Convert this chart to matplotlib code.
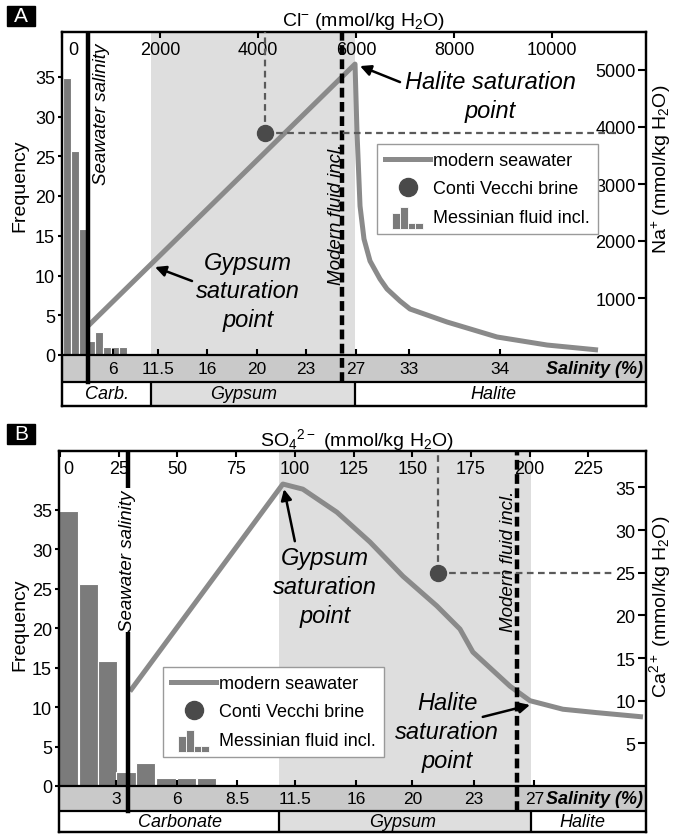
import matplotlib
matplotlib.use('Agg')
import matplotlib.pyplot as plt
from matplotlib.patches import Rectangle
from matplotlib.lines import Line2D
from matplotlib.legend_handler import HandlerBase

plt.rcParams['font.family'] = ['Liberation Sans', 'DejaVu Sans']
plt.rcParams['mathtext.default'] = 'regular'

W, H = 674, 837

# fluid inclusion histogram (same counts in both panels)
freq = [34.8, 25.6, 15.8, 1.8, 2.9, 1, 1, 1]
freq_ticks = [0, 5, 10, 15, 20, 25, 30, 35]

# ---- A : Cl- (x) / Na+ (right y) ----
a_bin_left = [20, 184, 347, 510, 673, 837, 1000, 1163]
a_bin_width = 160
a_cl = [531, 5980, 6020, 6082, 6163, 6286, 6490, 6633, 6898, 7102, 7857, 8878, 9898, 10939]
a_na = [509, 5104, 3911, 2613, 2035, 1649, 1333, 1158, 947, 807, 579, 316, 175, 88]
a_brine = (4150, 3900)
a_brine_end = 11300
a_seawater = 531
a_modern = 5714
a_gypsum = (1816, 5980)
a_top_ticks = [0, 2000, 4000, 6000, 8000, 10000]
a_right_ticks = [1000, 2000, 3000, 4000, 5000]
a_sal_pos = [1041, 1959, 2959, 3980, 4980, 6000, 7082, 8939]
a_sal_lab = ['6', '11.5', '16', '20', '23', '27', '33', '34']
a_min_lab = ['Carb.', 'Gypsum', 'Halite']
a_min_pos = [918, 3714, 8796]

# ---- B : SO4 2- (x) / Ca2+ (right y) ----
b_bin_left = [-0.4, 8.1, 16.0, 24.0, 32.4, 41.0, 49.8, 58.3]
b_bin_width = 8.2
b_so4 = [29.8, 94.9, 103.4, 117.9, 132, 146, 160.5, 170.3, 175.8, 191.6, 200.1, 214.1, 228.6, 248.2]
b_ca = [11.1, 35.4, 34.8, 32.1, 28.6, 24.6, 21.1, 18.4, 15.7, 11.7, 10.0, 9.0, 8.6, 8.1]
b_brine = (161, 25)
b_brine_end = 235
b_seawater = 29
b_modern = 194.6
b_gypsum = (93.2, 200.5)
b_top_ticks = [0, 25, 50, 75, 100, 125, 150, 175, 200, 225]
b_right_ticks = [5, 10, 15, 20, 25, 30, 35]
b_sal_pos = [23.8, 49.8, 75.4, 100, 126, 150, 176.2, 202]
b_sal_lab = ['3', '6', '8.5', '11.5', '16', '20', '23', '27']
b_min_lab = ['Carbonate', 'Gypsum', 'Halite']
b_min_pos = [51, 146, 222.6]

BAR_C = '#7b7b7b'
CURVE_C = '#8a8a8a'
DOT_C = '#4a4a4a'
DASH_C = '#5a5a5a'
SAL_C = '#c9c9c9'
SHADE_C = '#dedede'

fig = plt.figure(figsize=(W / 100, H / 100), dpi=100)


class HistIcon(HandlerBase):
    # little histogram drawn as legend key
    def create_artists(self, legend, orig_handle, xdescent, ydescent, width, height, fontsize, trans):
        bw = width * 0.17
        x0 = -xdescent + (width - 4 * bw) / 2
        y0 = -ydescent + height / 2 - 0.75 * fontsize
        bars = []
        for i, h in enumerate([0.72, 1.0, 0.28, 0.28]):
            bars.append(Rectangle((x0 + i * bw, y0), bw, h * 1.2 * fontsize,
                                  facecolor=BAR_C, edgecolor='white', lw=0.6, transform=trans))
        return bars


def panel(box, zero_px, sal_px, f_ppu, r_ppu, xlim):
    left, top, right, bottom = box
    ax = fig.add_axes([left / W, 1 - bottom / H, (right - left) / W, (bottom - top) / H])
    ax.set_xlim(xlim)
    ax.set_ylim(-(bottom - zero_px) / f_ppu, (zero_px - top) / f_ppu)
    ax2 = ax.twinx()
    ax2.set_ylim(-(bottom - zero_px) / r_ppu, (zero_px - top) / r_ppu)
    zero_frac = (bottom - zero_px) / (bottom - top)
    sal_frac = (bottom - sal_px) / (bottom - top)
    return ax, ax2, zero_frac, sal_frac


def draw(ax, ax2, zero_frac, sal_frac, bin_left, bin_w, cx, cy, brine, brine_end,
         seawater, modern, gyp, top_ticks, zero_dx, right_ticks, sal_pos, sal_lab,
         min_lab, min_pos, leg_xy):
    y0, y1 = ax.get_ylim()
    sal_bot = y0 + sal_frac * (y1 - y0)

    # shading and bottom bands
    ax.axvspan(*gyp, ymin=zero_frac, ymax=1, color=SHADE_C, lw=0, zorder=0)
    ax.axhspan(sal_bot, 0, color=SAL_C, lw=0, zorder=0)
    ax.axvspan(*gyp, ymin=0, ymax=sal_frac, color=SHADE_C, lw=0, zorder=0)
    ax.axhline(sal_bot, color='k', lw=1.6, zorder=1)
    ax.vlines(gyp, y0, sal_bot, color='k', lw=1.6, zorder=1)

    ax.bar(bin_left, freq, width=bin_w, align='edge', color=BAR_C,
           edgecolor='white', lw=0.8, zorder=2)
    ax.axhline(0, color='k', lw=1.6, zorder=2.5)

    ax.vlines(sal_pos, 0, 0.75, color='k', lw=1.5, zorder=2.5)
    sal_mid = sal_bot / 2
    for p, t in zip(sal_pos, sal_lab):
        ax.text(p, sal_mid, t, ha='center', va='center', fontsize=12.5, zorder=3)
    ax.annotate('Salinity (%)', xy=(1, sal_mid), xycoords=('axes fraction', 'data'),
                xytext=(-2, 0), textcoords='offset points', ha='right', va='center',
                fontsize=13, fontweight='bold', style='italic')
    min_mid = (y0 + sal_bot) / 2
    for p, t in zip(min_pos, min_lab):
        ax.text(p, min_mid, t, ha='center', va='center', fontsize=13, style='italic')

    # axes ticks
    ax.set_xticks(top_ticks)
    ax.tick_params(axis='x', bottom=False, top=True, labelbottom=False, labeltop=False,
                   direction='in', length=4, width=1.5)
    for v in top_ticks:
        dx = zero_dx if v == 0 else 0
        ax.annotate(str(v), xy=(v, 1), xycoords=('data', 'axes fraction'), xytext=(dx, -12.6),
                    textcoords='offset points', ha='center', va='center', fontsize=13)
    ax.set_yticks(freq_ticks)
    ax.tick_params(axis='y', direction='out', length=3, width=1.5, pad=2, labelsize=13)
    ax2.set_yticks(right_ticks)
    ax2.tick_params(axis='y', direction='in', length=6, width=1.5, pad=-7.5, labelsize=13)
    for lb in ax2.get_yticklabels():
        lb.set_horizontalalignment('right')
    for a in (ax, ax2):
        for s in a.spines.values():
            s.set_linewidth(1.6)

    # seawater evaporation curve and markers
    ax2.plot(cx, cy, color=CURVE_C, lw=3.6, solid_joinstyle='round', solid_capstyle='butt', zorder=3)
    ax2.axvline(seawater, ymin=sal_frac, ymax=1, color='k', lw=3.2, zorder=4)
    ax2.axvline(modern, ymin=sal_frac, ymax=1, color='k', lw=3.2, dashes=(2.2, 1.0), zorder=4)
    bx, by = brine
    ax2.plot([bx, bx], [by, ax2.get_ylim()[1]], color=DASH_C, lw=1.6, dashes=(3, 2), zorder=5)
    ax2.plot([bx, brine_end], [by, by], color=DASH_C, lw=1.6, dashes=(3, 2), zorder=5)
    ax2.plot(bx, by, 'o', ms=11.5, color=DOT_C, zorder=6)

    hist_handle = Rectangle((0, 0), 1, 1)
    handles = [Line2D([], [], color=CURVE_C, lw=3.6),
               Line2D([], [], ls='none', marker='o', ms=13, color=DOT_C),
               hist_handle]
    labels = ['modern seawater', 'Conti Vecchi brine', 'Messinian fluid incl.']
    leg = ax2.legend(handles, labels, handler_map={hist_handle: HistIcon()},
                     loc='upper left', bbox_to_anchor=leg_xy, bbox_transform=fig.transFigure,
                     fontsize=13, fancybox=False, edgecolor='#9a9a9a', framealpha=1,
                     borderpad=0.45, handlelength=2.5, handletextpad=0.15,
                     labelspacing=0.62, borderaxespad=0)
    leg.get_frame().set_linewidth(1.0)
    return ax2


def note(ax2, txt, xy_t, head, tail):
    ax2.text(*xy_t, txt, ha='center', va='center', fontsize=17, style='italic',
             linespacing=1.33, zorder=7)
    ax2.annotate('', xy=head, xytext=tail, zorder=7,
                 arrowprops=dict(arrowstyle='-|>', color='k', lw=1.8,
                                 mutation_scale=16, shrinkA=0, shrinkB=0))


# ---------------- panel A ----------------
axA, axA2, zA, sA = panel((62, 33, 646, 407), 356, 383, 7.95, 0.057, (0, 11918))
draw(axA, axA2, zA, sA, a_bin_left, a_bin_width, a_cl, a_na, a_brine, a_brine_end,
     a_seawater, a_modern, a_gypsum, a_top_ticks, 8.5, a_right_ticks, a_sal_pos, a_sal_lab,
     a_min_lab, a_min_pos, (377 / W, 1 - 145 / H))
note(axA2, 'Halite saturation\npoint', (8735, 4552), (6082, 5069), (6898, 4788))
note(axA2, 'Gypsum\nsaturation\npoint', (3796, 1123), (1898, 1543), (2653, 1298))
axA2.text(800, 4245, 'Seawater salinity', rotation=90, ha='center', va='center',
          fontsize=13.5, style='italic', zorder=6)
axA2.text(5592, 2491, 'Modern fluid incl.', rotation=90, ha='center', va='center',
          fontsize=13.5, style='italic', zorder=6)

# ---------------- panel B ----------------
axB, axB2, zB, sB = panel((59, 452, 646, 833), 787, 812, 7.89, 8.53, (-0.4, 249.5))
draw(axB, axB2, zB, sB, b_bin_left, b_bin_width, b_so4, b_ca, b_brine, b_brine_end,
     b_seawater, b_modern, b_gypsum, b_top_ticks, 6, b_right_ticks, b_sal_pos, b_sal_lab,
     b_min_lab, b_min_pos, (163 / W, 1 - 668 / H))
note(axB2, 'Gypsum\nsaturation\npoint', (112.8, 23.4), (95.4, 34.8), (100, 28.7))
note(axB2, 'Halite\nsaturation\npoint', (164.8, 6.4), (200.1, 9.5), (180, 8.1))
axB2.text(28.9, 26.5, 'Seawater salinity', rotation=90, ha='center', va='center',
          fontsize=13.5, style='italic', zorder=6,
          bbox=dict(fc='white', ec='none', pad=1))
axB2.text(191.1, 26.4, 'Modern fluid incl.', rotation=90, ha='center', va='center',
          fontsize=13.5, style='italic', zorder=6)

# panel letters and axis titles
for lab, (x, y) in [('A', (7, 7)), ('B', (7, 425))]:
    fig.add_artist(Rectangle((x / W, 1 - (y + 20) / H), 28 / W, 20 / H,
                             transform=fig.transFigure, color='k'))
    fig.text((x + 14) / W, 1 - (y + 10) / H, lab, color='white', fontsize=15,
             ha='center', va='center')

fig.text(20 / W, 1 - 186 / H, 'Frequency', rotation=90, ha='center', va='center', fontsize=14)
fig.text(20 / W, 1 - 625 / H, 'Frequency', rotation=90, ha='center', va='center', fontsize=14)
fig.text(673 / W, 1 - 169 / H, r'Na$^{+}$ (mmol/kg H$_2$O)', rotation=90,
         ha='right', va='center', fontsize=14)
fig.text(673 / W, 1 - 607 / H, r'Ca$^{2+}$ (mmol/kg H$_2$O)', rotation=90,
         ha='right', va='center', fontsize=14)
fig.text(363 / W, 1 - 26 / H, r'Cl$^{-}$ (mmol/kg H$_2$O)', ha='center', va='baseline', fontsize=14)
fig.text(357 / W, 1 - 446 / H, r'SO$_4$$^{2-}$ (mmol/kg H$_2$O)', ha='center', va='baseline', fontsize=14)

fig.savefig('out.png', dpi=100)
